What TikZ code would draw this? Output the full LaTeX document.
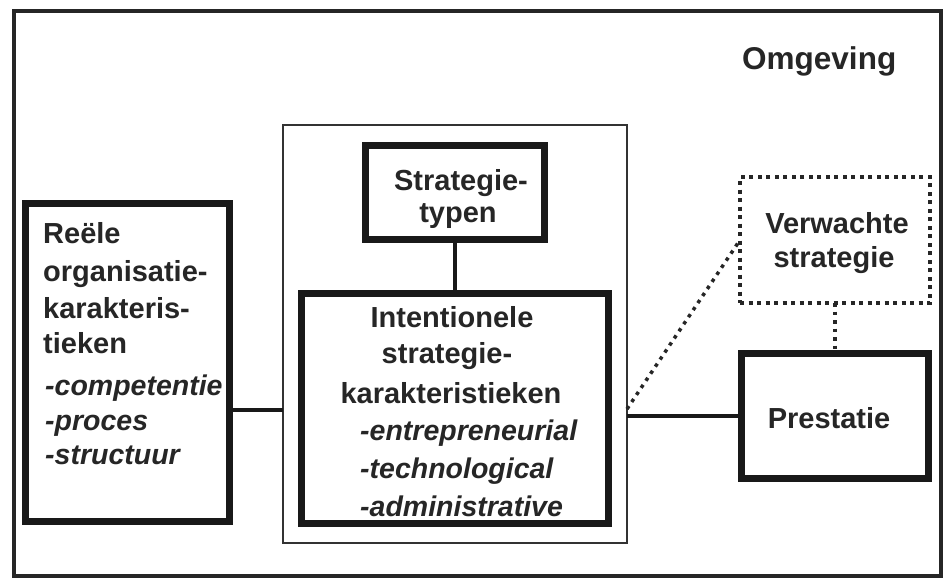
\documentclass[tikz,border=0pt]{standalone}
\usepackage{fontspec}
\setmainfont{Liberation Sans}
\begin{document}
\begin{tikzpicture}[x=1pt,y=-1pt,
  frame/.style={draw=black!85, line width=4pt, inner sep=0pt, outer sep=0pt, rectangle},
  thinframe/.style={draw=black!80, line width=1.6pt, inner sep=0pt, outer sep=0pt, rectangle},
  box/.style={draw=black!90, line width=7pt, inner sep=0pt, outer sep=0pt, rectangle},
  dotbox/.style={draw=black!85, line width=4pt, dash pattern=on 4pt off 4.5pt, inner sep=0pt, outer sep=0pt, rectangle},
  conn/.style={draw=black!90, line width=4.5pt},
  dotconn/.style={draw=black!85, line width=3.5pt, dash pattern=on 3.5pt off 5pt},
  txt/.style={inner sep=0pt, font=\fontsize{29}{34}\selectfont\bfseries, text=black!85},
  itxt/.style={inner sep=0pt, font=\fontsize{28.5}{34}\selectfont\bfseries\itshape, text=black!85},
  ttl/.style={inner sep=0pt, font=\fontsize{31.5}{36}\selectfont\bfseries, text=black!85}
]
\useasboundingbox (0,0) rectangle (952,582);
\fill[white] (0,0) rectangle (952,582);

% frames and boxes
\node[frame, minimum width=927pt, minimum height=565pt] (outer) at (477.5,293.5) {};
\node[thinframe, minimum width=344pt, minimum height=418pt] (mid) at (455,334) {};
\node[box, minimum width=204pt, minimum height=318pt] (lbox) at (127.5,362.5) {};
\node[box, minimum width=179pt, minimum height=94pt] (strat) at (455,192.5) {};
\node[box, minimum width=307pt, minimum height=230pt] (intent) at (455,408.5) {};
\node[box, minimum width=187pt, minimum height=125pt] (pres) at (835,416) {};
\node[dotbox, minimum width=190pt, minimum height=126pt] (verw) at (835,240) {};

% texts
\node[ttl, anchor=base west] (omg) at (742,69) {Omgeving};

\node[txt, anchor=base west] (l1) at (43,243) {Reële};
\node[txt, anchor=base west] (l2) at (43,281.5) {organisatie-};
\node[txt, anchor=base west] (l3) at (43,318) {karakteris-};
\node[txt, anchor=base west] (l4) at (43,353) {tieken};
\node[itxt, anchor=base west] (l5) at (45,395) {-competentie};
\node[itxt, anchor=base west] (l6) at (45,430) {-proces};
\node[itxt, anchor=base west] (l7) at (45,464) {-structuur};

\node[txt, anchor=base] (s1) at (461,190) {Strategie-};
\node[txt, anchor=base] (s2) at (458,222) {typen};

\node[txt, anchor=base] (i1) at (452,327) {Intentionele};
\node[txt, anchor=base] (i2) at (447,363) {strategie-};
\node[txt, anchor=base] (i3) at (451,403) {karakteristieken};
\node[itxt, anchor=base west] (i4) at (360,440) {-entrepreneurial};
\node[itxt, anchor=base west] (i5) at (360,478) {-technological};
\node[itxt, anchor=base west] (i6) at (360,516) {-administrative};

\node[txt, anchor=base] (v1) at (837,233) {Verwachte};
\node[txt, anchor=base] (v2) at (834,267) {strategie};

\node[txt, anchor=base] (p1) at (829,428) {Prestatie};

% connectors
\coordinate (cl) at (0,410);
\coordinate (cd) at (0,409);
\draw[conn] (lbox.east |- cl) -- (mid.west |- cl);
\draw[conn] (strat.south) -- (intent.north);
\draw[conn] (mid.east |- pres.west) -- (pres.west);
\draw[dotconn] (mid.east |- cd) -- (verw.west);
\draw[dotconn] (verw.south) -- (pres.north);
\end{tikzpicture}
\end{document}
